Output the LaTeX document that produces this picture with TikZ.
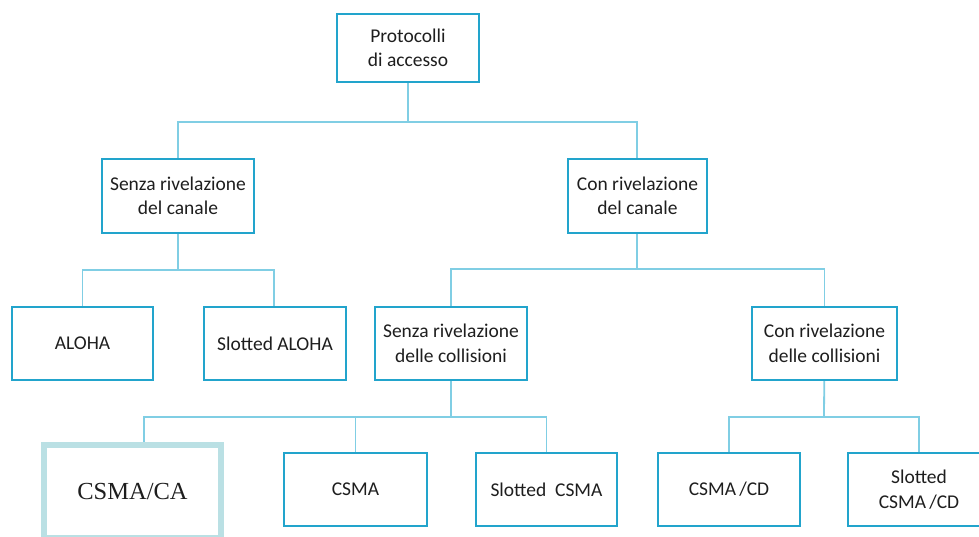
\documentclass[tikz,border=0pt]{standalone}
\usepackage{fontspec}
\setmainfont{Carlito}
\newfontfamily\serifcs{Liberation Serif}
\definecolor{boxline}{RGB}{34,164,204}
\definecolor{connline}{RGB}{128,206,228}
\definecolor{paleline}{RGB}{186,224,228}
\definecolor{txt}{RGB}{30,30,30}
\tikzset{
  box/.style={draw=boxline, line width=2.6pt, fill=white, align=center,
    text=txt, inner sep=0pt, minimum height=73pt,
    font=\fontsize{19.5}{24.5}\selectfont},
  conn/.style={draw=connline, line width=1.8pt},
}
\begin{document}
\begin{tikzpicture}[x=1pt,y=-1pt]
  \useasboundingbox (0,0) rectangle (979,536);
  \clip (0,0) rectangle (979,536);
  \fill[white] (0,0) rectangle (979,536);

  % bus coordinates
  \coordinate (b1) at (408,122);
  \coordinate (b2l) at (178,270);
  \coordinate (b2r) at (637,269);
  \coordinate (b3l) at (451,417);
  \coordinate (b3r) at (824,417);
  \coordinate (caTop) at (144,442);

  % connectors (drawn first, boxes cover their ends)
  \draw[conn] (408,48) -- (b1);
  \draw[conn] (178,196) |- (b1) -| (637,196);
  \draw[conn] (178,196) -- (b2l);
  \draw[conn] (82.5,343) |- (b2l) -| (274,343);
  \draw[conn] (637,196) -- (b2r);
  \draw[conn] (451,343) |- (b2r) -| (824.5,343);
  \draw[conn] (451,343) -- (b3l);
  \draw[conn] (caTop) |- (b3l) -| (546.5,489);
  \draw[conn] (355.5,489) -- (355.5,417);
  \draw[conn] (824.5,343) -- (b3r);
  \draw[conn] (729,489) |- (b3r) -| (919,489);

  % level 0
  \node[box, minimum width=142pt, minimum height=68pt] (proto) at (408,48) {Protocolli\\di accesso};
  % level 1
  \node[box, minimum width=152pt, minimum height=74pt] (senzaCan) at (178,196) {Senza rivelazione\\del canale};
  \node[box, minimum width=139pt, minimum height=74pt] (conCan) at (637.5,196) {Con rivelazione\\del canale};
  % level 2
  \node[box, minimum width=141pt] (aloha) at (82.5,343.5) {ALOHA};
  \node[box, minimum width=142pt] (saloha) at (275,343.5) {Slotted ALOHA};
  \node[box, minimum width=152pt] (senzaColl) at (451,343.5) {Senza rivelazione\\delle collisioni};
  \node[box, minimum width=145pt] (conColl) at (824.5,343.5) {Con rivelazione\\delle collisioni};
  % level 3
  \node[draw=paleline, line width=6pt, fill=white, inner sep=0pt,
        minimum width=177pt, minimum height=93pt, text=txt,
        font=\serifcs\fontsize{24.5}{28}\selectfont] (csmaca) at (132.5,491.5) {CSMA/CA};
  \node[box, minimum width=143pt] (csma) at (355.5,489.5) {CSMA};
  \node[box, minimum width=141pt] (scsma) at (546.5,489.5) {Slotted\ \ CSMA};
  \node[box, minimum width=142pt] (csmacd) at (729,489.5) {CSMA\,/CD};
  \node[box, minimum width=142pt] (scsmacd) at (919,489.5) {Slotted\\CSMA\,/CD};
\end{tikzpicture}
\end{document}
